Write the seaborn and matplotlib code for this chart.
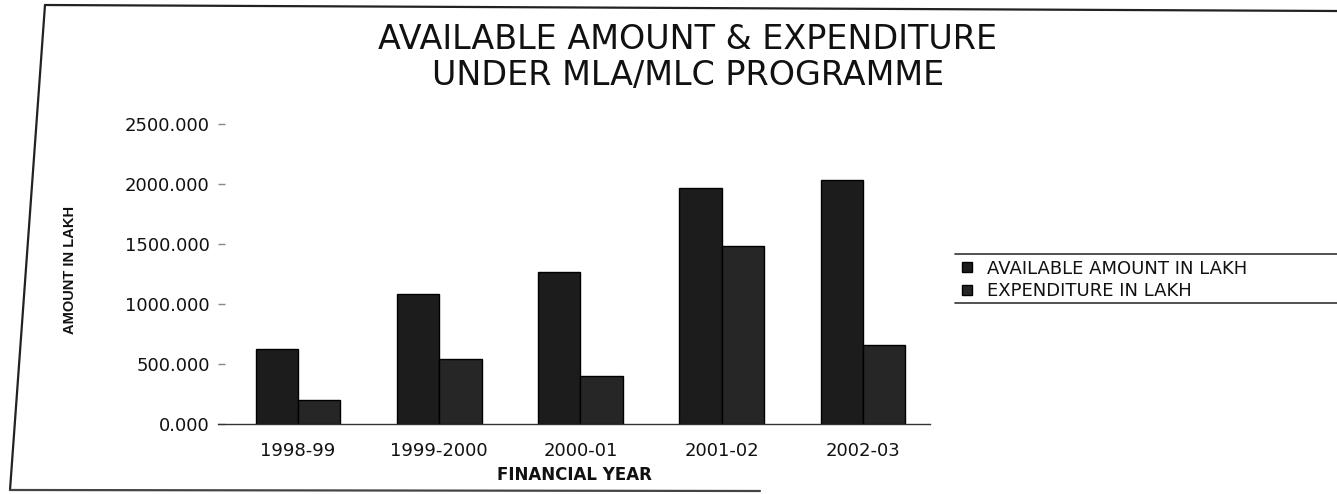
import matplotlib
matplotlib.use("Agg")
import matplotlib.pyplot as plt
from matplotlib.lines import Line2D
import seaborn as sns
import pandas as pd

# ---- data ----
years = ["1998-99", "1999-2000", "2000-01", "2001-02", "2002-03"]
available = [628, 1083, 1265, 1968, 2033]
expenditure = [204, 539, 399, 1488, 662]
series_names = ["AVAILABLE AMOUNT IN LAKH", "EXPENDITURE IN LAKH"]
y_ticks = [0, 500, 1000, 1500, 2000, 2500]

df = pd.DataFrame({
    "year": years * 2,
    "amount": available + expenditure,
    "series": [series_names[0]] * len(years) + [series_names[1]] * len(years),
})

sns.set_theme(style="white")
plt.rcParams["font.family"] = ["DejaVu Sans"]

W, H = 1337, 494
fig = plt.figure(figsize=(W / 100, H / 100), dpi=100)
fig.patch.set_facecolor("white")

ax_left, ax_right = 218, 930
ax_top, ax_bottom = 124.3, 424
ax = fig.add_axes([ax_left / W, 1 - ax_bottom / H,
                   (ax_right - ax_left) / W, (ax_bottom - ax_top) / H])

palette = {series_names[0]: "#1c1c1c", series_names[1]: "#262626"}
sns.barplot(data=df, x="year", y="amount", hue="series", order=years,
            hue_order=series_names, palette=palette, width=0.6, gap=0,
            edgecolor="black", linewidth=1.0, saturation=1, ax=ax)

ax.set_xlim(-0.566, 4.474)
ax.set_ylim(0, 2500)
ax.set_yticks(y_ticks)
ax.set_yticklabels([f"{v:.3f}" for v in y_ticks])

for s in ["top", "right", "left"]:
    ax.spines[s].set_visible(False)
ax.spines["bottom"].set_color("#333333")
ax.spines["bottom"].set_linewidth(1.0)

ax.tick_params(axis="y", direction="in", length=5, width=1, color="#888888",
               pad=6, labelsize=13, labelcolor="#111111", left=True)
ax.tick_params(axis="x", length=0, pad=13, labelsize=13, labelcolor="#111111")

ax.set_xlabel("FINANCIAL YEAR", fontsize=12, fontweight="bold", color="#111111")
ax.xaxis.set_label_coords(0.5, (ax_bottom - 475) / (ax_bottom - ax_top))
ax.xaxis.label.set_va("center")

ax.set_ylabel("AMOUNT IN LAKH", fontsize=10.5, fontweight="bold", color="#111111",
              family=["Liberation Sans", "DejaVu Sans"])
ax.yaxis.set_label_coords((70 - ax_left) / (ax_right - ax_left),
                          (ax_bottom - 270) / (ax_bottom - ax_top))
ax.yaxis.label.set_va("center")

# legend (right side, lines above and below)
sns.move_legend(ax, loc="upper left", bbox_to_anchor=(958 / W, 1 - 256 / H),
                bbox_transform=fig.transFigure, title=None, frameon=False,
                fontsize=13, handlelength=0.6, handleheight=0.45,
                handletextpad=0.8, labelspacing=0.25, borderpad=0.2,
                borderaxespad=0)
for t in ax.get_legend().get_texts():
    t.set_color("#111111")

for yy in (254, 303):
    fig.add_artist(Line2D([955 / W, 1.0], [1 - yy / H, 1 - yy / H],
                          transform=fig.transFigure, color="#333333", lw=1.2))

# title
fig.text(688 / W, 1 - 57.5 / H,
         "AVAILABLE AMOUNT & EXPENDITURE\nUNDER MLA/MLC PROGRAMME",
         ha="center", va="center", fontsize=24, color="#111111",
         linespacing=1.15)

# scanned page frame
fig.add_artist(Line2D([45 / W, 1.0], [1 - 5 / H, 1 - 11 / H],
                      transform=fig.transFigure, color="#222222", lw=1.6))
fig.add_artist(Line2D([45 / W, 10 / W], [1 - 5 / H, 1 - 490 / H],
                      transform=fig.transFigure, color="#222222", lw=1.6))
fig.add_artist(Line2D([10 / W, 760 / W], [1 - 490 / H, 1 - 491 / H],
                      transform=fig.transFigure, color="#444444", lw=1.6))

fig.savefig("out.png", dpi=100, facecolor="white")
